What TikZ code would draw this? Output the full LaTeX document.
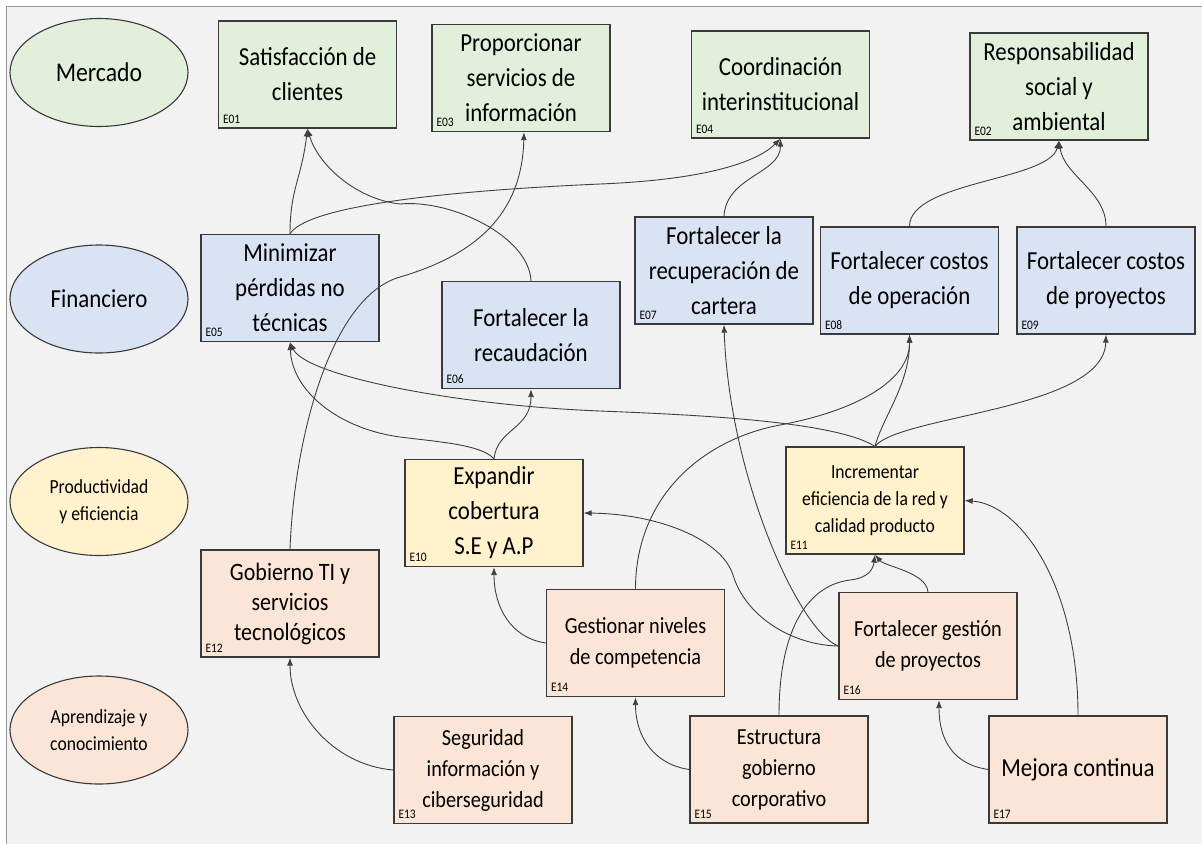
\documentclass[tikz,border=0pt]{standalone}
\usepackage{fontspec}
\setmainfont{Carlito}[FakeStretch=0.88]
\usetikzlibrary{arrows.meta,shapes.geometric}
\definecolor{cG}{HTML}{E2EFDA}
\definecolor{cB}{HTML}{DAE3F3}
\definecolor{cY}{HTML}{FFF2CC}
\definecolor{cP}{HTML}{FBE5D6}
\definecolor{bgc}{HTML}{F2F2F2}
\definecolor{edge}{HTML}{3A3A3A}
\definecolor{wire}{HTML}{404040}
\tikzset{
  box/.style={rectangle, draw=edge, line width=1.3pt, minimum width=178pt, minimum height=107pt, inner sep=0pt, align=center, text=black},
  persp/.style={ellipse, draw=edge, line width=1.1pt, minimum width=178pt, minimum height=108pt, inner sep=0pt, align=center, text=black},
  idl/.style={anchor=south west, inner sep=0pt, font=\fontsize{13}{13}\selectfont, text=black},
  conn/.style={draw=wire, line width=0.9pt, -{Latex[length=8pt,width=6pt]}},
  fA/.style={font=\fontsize{26}{35}\selectfont},
  fB/.style={font=\fontsize{23}{31}\selectfont},
  fC/.style={font=\fontsize{20}{27}\selectfont},
}
\begin{document}
\begin{tikzpicture}[x=1pt,y=-1pt]
\useasboundingbox (0,0) rectangle (1202,844);
\fill[white] (0,0) rectangle (1202,844);
\fill[bgc] (6,6) rectangle (1202,844);
\draw[black!40, line width=1pt] (6,844) -- (6,6) -- (1202,6);

% perspectives
\node[persp, fill=cG, font=\fontsize{27}{30}\selectfont] (pM) at (99,72.5) {Mercado};
\node[persp, fill=cB, font=\fontsize{26}{30}\selectfont] (pF) at (99,299) {Financiero};
\node[persp, fill=cY, fC] (pP) at (99,501.5) {Productividad\\y eficiencia};
\node[persp, fill=cP, fC] (pA) at (99,730) {Aprendizaje y\\conocimiento};

% boxes
\node[box, fill=cG, fA] (E01) at (307.5,74.5) {Satisfacción de\\clientes};
\node[box, fill=cG, fA] (E03) at (521,78) {Proporcionar\\servicios de\\información};
\node[box, fill=cG, fA] (E04) at (780.5,84.5) {Coordinación\\interinstitucional};
\node[box, fill=cG, fA] (E02) at (1059,86.5) {Responsabilidad\\social y\\ambiental};
\node[box, fill=cB, fA] (E05) at (290,288) {Minimizar\\pérdidas no\\técnicas};
\node[box, fill=cB, fA] (E06) at (531,335) {Fortalecer la\\recaudación};
\node[box, fill=cB, fA] (E07) at (724,270.5) {Fortalecer la\\recuperación de\\cartera};
\node[box, fill=cB, fA] (E08) at (909.5,280.5) {Fortalecer costos\\de operación};
\node[box, fill=cB, fA] (E09) at (1106,280.5) {Fortalecer costos\\de proyectos};
\node[box, fill=cY, fA] (E10) at (494,513) {Expandir\\cobertura\\S.E y A.P};
\node[box, fill=cY, fC] (E11) at (875,500.5) {Incrementar\\eficiencia de la red y\\calidad producto};
\node[box, fill=cP, font=\fontsize{25}{30}\selectfont] (E12) at (290,603.5) {Gobierno TI y\\servicios\\tecnológicos};
\node[box, fill=cP, fB] (E13) at (483,770) {Seguridad\\información y\\ciberseguridad};
\node[box, fill=cP, fB] (E14) at (635.5,643) {Gestionar niveles\\de competencia};
\node[box, fill=cP, fB] (E15) at (779,769.5) {Estructura\\gobierno\\corporativo};
\node[box, fill=cP, fB] (E16) at (928,646) {Fortalecer gestión\\de proyectos};
\node[box, fill=cP, font=\fontsize{26}{30}\selectfont] (E17) at (1078,769.5) {Mejora continua};

% id labels
\foreach \n in {E01,E02,E03,E04,E05,E06,E07,E08,E09,E10,E11,E12,E13,E14,E15,E16,E17}
  \node[idl] (l\n) at ([shift={(5,-5)}]\n.south west) {\n};

% connectors
\draw[conn] (E05.north) .. controls +(0,-45) and +(-6,50) .. (E01.south);
\draw[conn] (E06.north) .. controls +(-2,-45) and +(50,-5) .. (400,204) .. controls +(-45,-5) and +(10,35) .. (E01.south);
\draw[conn] (E12.north) .. controls (294,440) and (330,297) .. (400,277) .. controls (475,255) and (522,215) .. ([xshift=3pt]E03.south);
\draw[conn] (E05.north) .. controls +(15,-25) and (420,192) .. (600,184) .. controls (700,180) and +(-25,25) .. (E04.south);
\draw[conn] (E07.north) .. controls +(2,-40) and +(0,35) .. (E04.south);
\draw[conn] (E08.north) .. controls +(0,-45) and +(-10,40) .. (E02.south);
\draw[conn] (E09.north) .. controls +(0,-35) and +(5,35) .. (E02.south);
\draw[conn] (E10.north) .. controls +(-12,-14) and +(40,5) .. (400,437) .. controls +(-60,-8) and +(2,50) .. (E05.south);
\draw[conn] (E10.north) .. controls +(3,-30) and +(0,40) .. (E06.south);
\draw[conn] (E11.north) .. controls +(-40,-25) and (700,415) .. (600,411) .. controls (450,405) and (305,375) .. (E05.south);
\draw[conn] (E11.north) .. controls +(8,-30) and +(0,50) .. (E08.south);
\draw[conn] (E11.north) .. controls (900,415) and (1104,410) .. (E09.south);
\draw[conn] (E14.north) .. controls +(0,-90) and (700,440) .. (780,425) .. controls (860,410) and (910,379) .. (E08.south);
\draw[conn] (E16.west) .. controls +(-40,-15) and +(5,150) .. (E07.south);
\draw[conn] (E16.west) .. controls (790,645) and (745,615) .. (733,575) .. controls (722,540) and (660,514) .. (E10.east);
\draw[conn] (E16.north) .. controls +(-2,-20) and +(10,12) .. (E11.south);
\draw[conn] (E15.north) .. controls +(0,-90) and (810,585) .. (850,580) .. controls (868,578) and +(-2,15) .. (E11.south);
\draw[conn] (E17.north) .. controls +(0,-130) and +(56,4) .. (E11.east);
\draw[conn] (E17.west) .. controls +(-35,-5) and +(0,40) .. ([xshift=11pt]E16.south);
\draw[conn] (E15.west) .. controls +(-35,-5) and +(0,40) .. (E14.south);
\draw[conn] (E14.west) .. controls +(-35,-5) and +(0,40) .. (E10.south);
\draw[conn] (E13.west) .. controls +(-60,-5) and +(0,55) .. (E12.south);
\end{tikzpicture}
\end{document}
